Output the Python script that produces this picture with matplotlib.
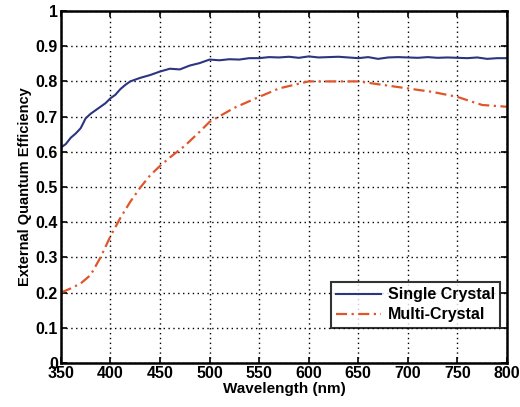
import matplotlib
matplotlib.use('Agg')
import matplotlib.pyplot as plt

# Single crystal EQE
wl_single = [350, 355, 360, 365, 370, 375, 380, 385, 390, 395, 400, 405, 410, 415, 420,
             430, 440, 450, 460, 470, 480, 490, 500, 510, 520, 530, 540, 550, 560, 570,
             580, 590, 600, 610, 620, 630, 640, 650, 660, 670, 680, 690, 700, 710, 720,
             730, 740, 750, 760, 770, 780, 790, 800]
eqe_single = [0.612, 0.622, 0.640, 0.652, 0.667, 0.695, 0.708, 0.718, 0.728, 0.738, 0.752, 0.762, 0.778, 0.790, 0.800,
              0.810, 0.818, 0.828, 0.836, 0.834, 0.845, 0.852, 0.862, 0.860, 0.863, 0.862, 0.866, 0.866, 0.869, 0.868,
              0.870, 0.867, 0.871, 0.868, 0.869, 0.870, 0.868, 0.866, 0.869, 0.864, 0.868, 0.869, 0.868, 0.867, 0.869,
              0.867, 0.868, 0.867, 0.866, 0.868, 0.864, 0.866, 0.866]

# Multi-crystal EQE
wl_multi = [350, 360, 370, 380, 390, 400, 410, 420, 430, 440, 450, 460, 475, 490, 500,
            525, 550, 570, 600, 625, 650, 675, 700, 725, 750, 765, 775, 790, 800]
eqe_multi = [0.200, 0.212, 0.226, 0.250, 0.300, 0.360, 0.412, 0.458, 0.498, 0.533, 0.560, 0.584, 0.617, 0.657, 0.685,
             0.725, 0.756, 0.780, 0.800, 0.800, 0.800, 0.790, 0.780, 0.770, 0.756, 0.742, 0.733, 0.730, 0.728]

x_ticks = [350, 400, 450, 500, 550, 600, 650, 700, 750, 800]
y_ticks = [0, 0.1, 0.2, 0.3, 0.4, 0.5, 0.6, 0.7, 0.8, 0.9, 1]
y_labels = ['0', '0.1', '0.2', '0.3', '0.4', '0.5', '0.6', '0.7', '0.8', '0.9', '1']

plt.rcParams['font.family'] = ['Liberation Sans', 'DejaVu Sans']
plt.rcParams['font.weight'] = 'bold'

fig = plt.figure(figsize=(5.2, 4.07), dpi=100, facecolor='white')
ax = fig.add_axes([0.117, 0.108, 0.858, 0.865])

ax.plot(wl_single, eqe_single, color='#2B3580', linewidth=1.5, label='Single Crystal')
ax.plot(wl_multi, eqe_multi, color='#E0562A', linewidth=1.6, linestyle=(0, (5, 2, 1, 2)),
        label='Multi-Crystal')

ax.set_xlim(350, 800)
ax.set_ylim(0, 1)
ax.set_xticks(x_ticks)
ax.set_yticks(y_ticks)
ax.set_yticklabels(y_labels)
ax.tick_params(labelsize=11.5, direction='in', length=4, width=1.2, top=True, right=True, pad=2)
for lab in ax.get_xticklabels() + ax.get_yticklabels():
    lab.set_fontweight('bold')

ax.grid(True, color='black', linestyle=(0, (1, 2.5)), linewidth=1.0)
for s in ax.spines.values():
    s.set_linewidth(1.8)

ax.set_xlabel('Wavelength (nm)', fontsize=11, fontweight='bold', labelpad=1)
ax.set_ylabel('External Quantum Efficiency', fontsize=10.5, fontweight='bold', labelpad=3)

leg = ax.legend(loc='lower right', bbox_to_anchor=(0.985, 0.10), fontsize=11.5,
                frameon=True, fancybox=False, edgecolor='black', handlelength=2.8,
                borderpad=0.35, labelspacing=0.3, handletextpad=0.4, borderaxespad=0)
leg.get_frame().set_linewidth(1.5)
for t in leg.get_texts():
    t.set_fontweight('bold')

fig.savefig('out.png', dpi=100, facecolor='white')
